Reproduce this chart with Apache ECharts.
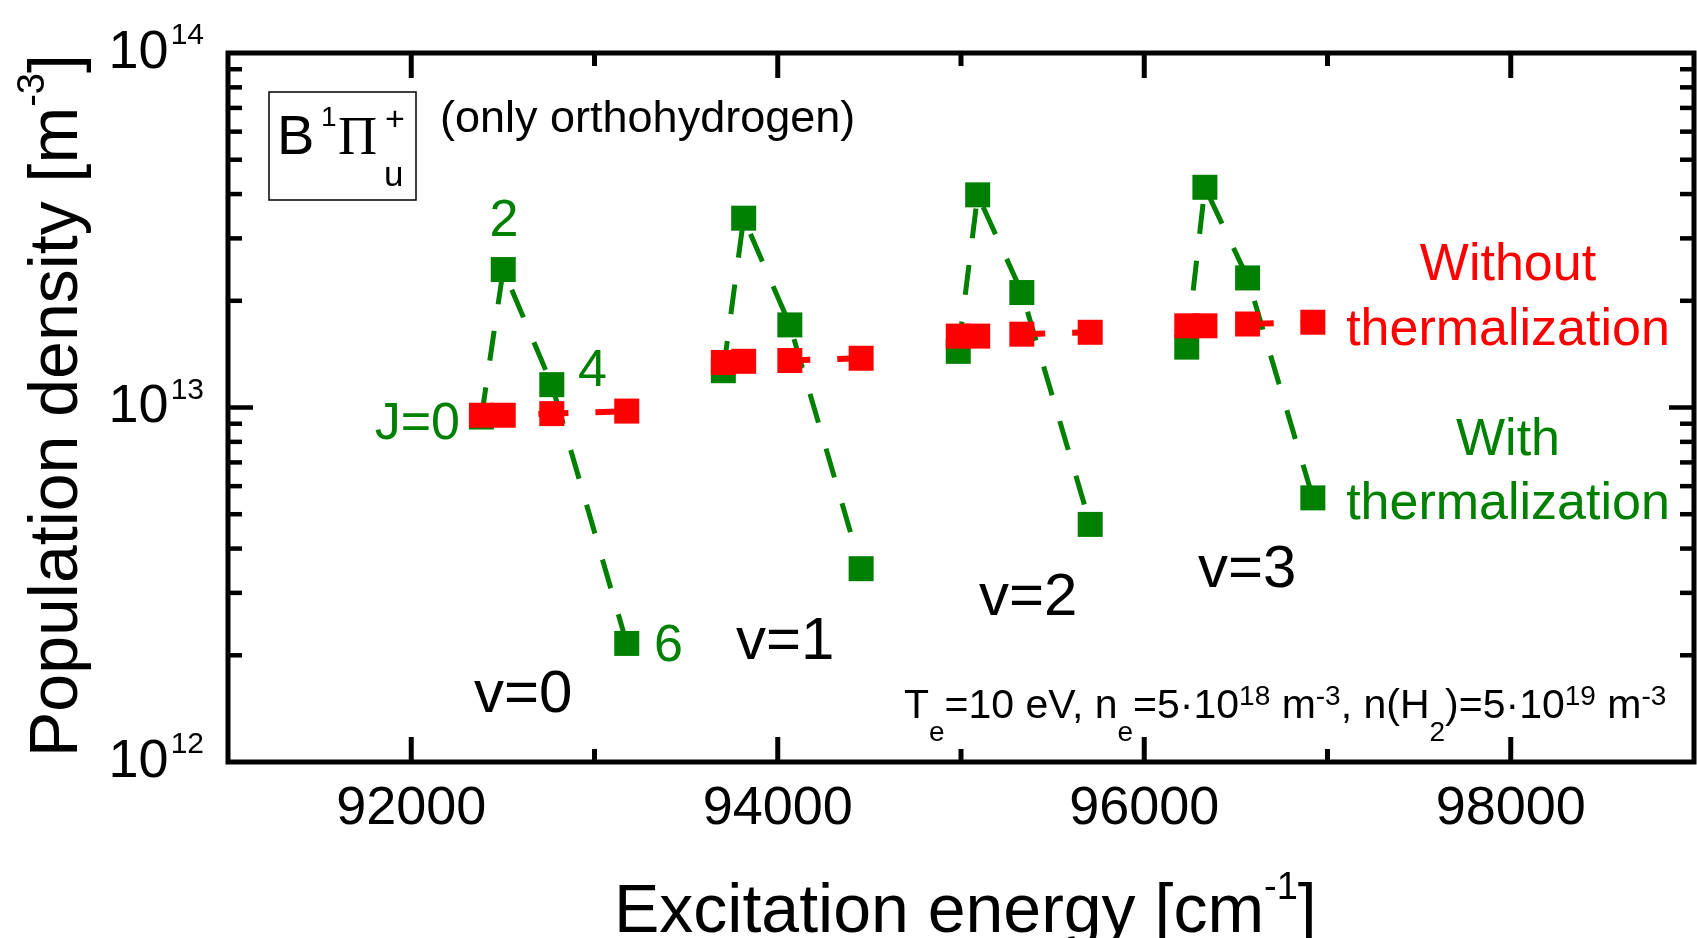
<!DOCTYPE html>
<html>
<head>
<meta charset="utf-8">
<script src="https://cdn.jsdelivr.net/npm/echarts@6/dist/echarts.min.js"></script>
<style>
html,body{margin:0;padding:0;background:#fff;}
#chart{width:1697px;height:938px;}
</style>
</head>
<body>
<div id="chart"></div>
<script>
// ---------------- data ----------------
const rotLevels = ['J=0', 'J=2', 'J=4', 'J=6'];
const vibLevels = ['v=0', 'v=1', 'v=2', 'v=3'];
// excitation energies [cm^-1] of the J levels in each vibrational level
const energy_v0 = [92383, 92502, 92767, 93176];
const energy_v1 = [93703, 93814, 94066, 94455];
const energy_v2 = [94985, 95091, 95332, 95705];
const energy_v3 = [96232, 96331, 96564, 96920];
// population densities [m^-3] with thermalization (green)
const withTherm_v0 = [9.4e12, 2.45e13, 1.16e13, 2.16e12];
const withTherm_v1 = [1.27e13, 3.42e13, 1.71e13, 3.51e12];
const withTherm_v2 = [1.44e13, 3.98e13, 2.11e13, 4.68e12];
const withTherm_v3 = [1.48e13, 4.18e13, 2.32e13, 5.56e12];
// population densities [m^-3] without thermalization (red)
const withoutTherm_v0 = [9.51e12, 9.51e12, 9.61e12, 9.77e12];
const withoutTherm_v1 = [1.34e13, 1.35e13, 1.357e13, 1.377e13];
const withoutTherm_v2 = [1.59e13, 1.59e13, 1.61e13, 1.63e13];
const withoutTherm_v3 = [1.70e13, 1.70e13, 1.72e13, 1.74e13];
// axis ticks
const xTickValues = [92000, 93000, 94000, 95000, 96000, 97000, 98000];
const xLabelValues = [92000, 94000, 96000, 98000];
const yMajorTicks = [1e13];
const yMinorTicks = [2e12, 3e12, 4e12, 5e12, 6e12, 7e12, 8e12, 9e12,
                     2e13, 3e13, 4e13, 5e13, 6e13, 7e13, 8e13, 9e13];

// ---------------- helpers ----------------
const SANS = 'Liberation Sans';
const SERIF = 'Liberation Serif';
const GREEN = '#008000';
const RED = '#ff0000';
const mctx = document.createElement('canvas').getContext('2d');
function tw(text, size, fam) {
  mctx.font = size + 'px "' + fam + '"';
  return mctx.measureText(text).width;
}
function txt(text, x, y, size, color, align, fam) {
  return {type: 'text', x: x, y: y, silent: true,
    style: {text: text, fontSize: size, fontFamily: fam || SANS, fill: color || '#000',
            align: align || 'left', verticalAlign: 'middle'}};
}
// pieces: [text, size, dy]
function pieceLine(pieces, x0, yc, color, fam) {
  const out = [];
  let x = x0;
  pieces.forEach(p => {
    const f = p[3] || fam || SANS;
    out.push(txt(p[0], x, yc + (p[2] || 0), p[1], color, 'left', f));
    x += tw(p[0], p[1], f);
  });
  return out;
}

const chart = echarts.init(document.getElementById('chart'), null, {renderer: 'canvas'});

const energies = [energy_v0, energy_v1, energy_v2, energy_v3];
const withTh = [withTherm_v0, withTherm_v1, withTherm_v2, withTherm_v3];
const withoutTh = [withoutTherm_v0, withoutTherm_v1, withoutTherm_v2, withoutTherm_v3];

const series = [];
vibLevels.forEach((v, k) => {
  series.push({
    name: 'With thermalization ' + v, type: 'line',
    data: energies[k].map((e, i) => [e, withTh[k][i]]),
    symbol: 'rect', symbolSize: 25, showAllSymbol: true,
    itemStyle: {color: GREEN},
    lineStyle: {color: GREEN, width: 5, type: [30, 27]},
    z: 3, silent: true
  });
});
vibLevels.forEach((v, k) => {
  series.push({
    name: 'Without thermalization ' + v, type: 'line',
    data: energies[k].map((e, i) => [e, withoutTh[k][i]]),
    symbol: 'rect', symbolSize: 25, showAllSymbol: true,
    itemStyle: {color: RED},
    lineStyle: {color: RED, width: 6, type: [30, 27]},
    z: 4, silent: true
  });
});

const X_MIN = 91000, X_MAX = 99000, Y_MIN = 1e12, Y_MAX = 1e14;
// tick marks on all four frame sides, positioned through the axes' scales
series.push({
  type: 'custom', coordinateSystem: 'cartesian2d', silent: true, z: 6,
  data: xTickValues.map(v => [v, Y_MIN]),
  renderItem: (params, api) => {
    const v = xTickValues[params.dataIndex];
    const len = xLabelValues.indexOf(v) >= 0 ? 25 : 13;
    const b = api.coord([v, Y_MIN]);
    const t = api.coord([v, Y_MAX]);
    const st = {stroke: '#000', lineWidth: 5};
    return {type: 'group', children: [
      {type: 'line', shape: {x1: b[0], y1: b[1], x2: b[0], y2: b[1] - len}, style: st},
      {type: 'line', shape: {x1: t[0], y1: t[1], x2: t[0], y2: t[1] + len}, style: st}
    ]};
  }
});
const yTicksAll = yMajorTicks.concat(yMinorTicks);
series.push({
  type: 'custom', coordinateSystem: 'cartesian2d', silent: true, z: 6,
  data: yTicksAll.map(v => [X_MIN, v]),
  renderItem: (params, api) => {
    const v = yTicksAll[params.dataIndex];
    const len = yMajorTicks.indexOf(v) >= 0 ? 25 : 14;
    const l = api.coord([X_MIN, v]);
    const r = api.coord([X_MAX, v]);
    const st = {stroke: '#000', lineWidth: 4.5};
    return {type: 'group', children: [
      {type: 'line', shape: {x1: l[0], y1: l[1], x2: l[0] + len, y2: l[1]}, style: st},
      {type: 'line', shape: {x1: r[0], y1: r[1], x2: r[0] - len, y2: r[1]}, style: st}
    ]};
  }
});

// ---------------- annotations ----------------
const g = [];
// state label box
g.push({type: 'rect', shape: {x: 269, y: 92, width: 147, height: 108},
        style: {fill: 'none', stroke: '#000', lineWidth: 1.5}, silent: true});
g.push(txt('B', 277, 139, 56, '#000'));
g.push(txt('1', 321, 118, 28, '#000'));
g.push(txt('\u03A0', 338, 140, 54, '#000', 'left', SERIF));
g.push(txt('u', 384, 176, 35, '#000'));
g.push(txt('+', 385, 121, 34, '#000'));
g.push(txt('(only orthohydrogen)', 440, 120, 45, '#000'));
// J labels
g.push(txt('2', 504, 222, 52, GREEN, 'center'));
g.push(txt('4', 578, 372, 52, GREEN));
g.push(txt('J=0', 460, 425, 52, GREEN, 'right'));
g.push(txt('6', 654, 647, 52, GREEN));
// v labels
g.push(txt(vibLevels[0], 474, 695, 60, '#000'));
g.push(txt(vibLevels[1], 736, 642, 60, '#000'));
g.push(txt(vibLevels[2], 979, 598, 60, '#000'));
g.push(txt(vibLevels[3], 1198, 570, 60, '#000'));
// legend-like labels
g.push(txt('Without', 1508, 266, 52, RED, 'center'));
g.push(txt('thermalization', 1508, 331, 52, RED, 'center'));
g.push(txt('With', 1508, 441, 52, GREEN, 'center'));
g.push(txt('thermalization', 1508, 505, 52, GREEN, 'center'));
// parameter line
pieceLine([
  ['T', 41, 0], ['e', 28, 26], ['=10 eV, n', 41, 0], ['e', 28, 26], ['=5\u00B710', 41, 0],
  ['18', 28, -10], [' m', 41, 0], ['-3', 28, -10], [', n(H', 41, 0], ['2', 28, 26],
  [')=5\u00B710', 41, 0], ['19', 28, -10], [' m', 41, 0], ['-3', 28, -10]
], 904, 707, '#000').forEach(e => g.push(e));
// x-axis title
pieceLine([['Excitation energy [cm', 68, 0], ['-1', 38, -24], [']', 68, 0]], 614, 913, '#000')
  .forEach(e => g.push(e));
// y-axis title (rotated)
g.push({type: 'group', x: 58, y: 757, rotation: Math.PI / 2, silent: true,
  children: pieceLine([['Population density [m', 68, 0], ['-3', 38, -24], [']', 68, 0]], 0, 0, '#000')});

const option = {
  animation: false,
  backgroundColor: '#ffffff',
  grid: {left: 228, right: 3, top: 53, bottom: 176, show: true,
         borderColor: '#000', borderWidth: 5, backgroundColor: 'transparent'},
  xAxis: {
    type: 'value', min: X_MIN, max: X_MAX, interval: 1000,
    axisLine: {show: false}, axisTick: {show: false}, splitLine: {show: false},
    axisLabel: {
      margin: 20, color: '#000', fontSize: 54, fontFamily: SANS,
      formatter: v => (xLabelValues.indexOf(v) >= 0 ? String(v) : '')
    }
  },
  yAxis: {
    type: 'log', logBase: 10, min: Y_MIN, max: Y_MAX,
    axisLine: {show: false}, axisTick: {show: false}, splitLine: {show: false},
    axisLabel: {
      margin: 24, color: '#000',
      formatter: v => '{b|10}{s|' + Math.round(Math.log10(v)) + '}',
      rich: {
        b: {fontSize: 54, fontFamily: SANS, color: '#000', lineHeight: 64},
        s: {fontSize: 30, fontFamily: SANS, color: '#000', lineHeight: 32, verticalAlign: 'top', padding: [0, 0, 0, 2]}
      }
    }
  },
  graphic: {elements: g},
  series: series
};
chart.setOption(option);
</script>
</body>
</html>
